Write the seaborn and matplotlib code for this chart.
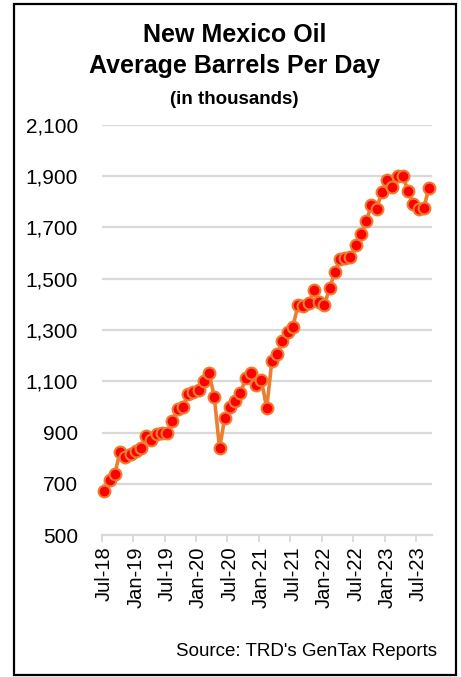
import numpy as np
import pandas as pd
import seaborn as sns
import matplotlib.pyplot as plt
from matplotlib.patches import Rectangle

# Monthly average barrels per day (thousands), Jul-2018 .. Sep-2023
months = pd.date_range('2018-07-01', periods=63, freq='MS')
barrels = [671, 715, 738, 825, 806, 818, 828, 838, 885, 872,
           894, 900, 897, 946, 993, 1000, 1051, 1057, 1067, 1102,
           1132, 1039, 838, 958, 1000, 1024, 1054, 1112, 1131, 1086,
           1104, 995, 1181, 1205, 1256, 1292, 1313, 1398, 1392, 1404,
           1455, 1410, 1397, 1462, 1526, 1578, 1582, 1585, 1630, 1673,
           1725, 1786, 1774, 1839, 1884, 1858, 1900, 1902, 1842, 1793,
           1771, 1777, 1855]
tick_labels = ['Jul-18', 'Jan-19', 'Jul-19', 'Jan-20', 'Jul-20', 'Jan-21',
               'Jul-21', 'Jan-22', 'Jul-22', 'Jan-23', 'Jul-23']
y_ticks = [500, 700, 900, 1100, 1300, 1500, 1700, 1900, 2100]

df = pd.DataFrame({'month': months, 'barrels': barrels})
df['pos'] = np.arange(len(df))

sns.set_style('white')
plt.rcParams['font.family'] = ['Liberation Sans', 'DejaVu Sans']
plt.rcParams['text.color'] = 'black'
plt.rcParams['xtick.color'] = 'black'
plt.rcParams['ytick.color'] = 'black'

fig = plt.figure(figsize=(4.61, 6.77), dpi=100)
ax = fig.add_axes([0.2206, 0.2097, 0.7158, 0.6057])

sns.lineplot(data=df, x='pos', y='barrels', ax=ax, color='#ED7D31', linewidth=2.6,
             marker='o', markersize=8.5, markerfacecolor='#FF0000',
             markeredgecolor='#ED7D31', markeredgewidth=1.5, zorder=3, clip_on=False)

# y axis
ax.set_ylim(500, 2100)
ax.set_yticks(y_ticks)
ax.set_yticklabels([f'{v:,}' for v in y_ticks], fontsize=15)
ax.yaxis.grid(True, color='#d9d9d9', linewidth=1.6)
ax.tick_params(axis='y', length=0, pad=17)

# x axis: labels centred on categories, tick marks between categories
ax.set_xlim(-0.5, len(df) - 0.5)
ax.set_xticks(np.arange(0, len(df), 6))
ax.set_xticklabels(tick_labels, rotation=90, fontsize=14.5)
ax.set_xticks(np.arange(-0.5, len(df), 6), minor=True)
ax.tick_params(axis='x', which='major', length=0, pad=8)
ax.tick_params(axis='x', which='minor', length=5, width=1.3, color='#d9d9d9',
               direction='out', bottom=True)
ax.set_xlabel('')
ax.set_ylabel('')

for side in ['left', 'right', 'top']:
    ax.spines[side].set_visible(False)
ax.spines['bottom'].set_color('#d9d9d9')
ax.spines['bottom'].set_linewidth(1.6)

# titles
fig.text(0.508, 0.948, 'New Mexico Oil', ha='center', va='center',
         fontsize=18, fontweight='bold')
fig.text(0.508, 0.902, 'Average Barrels Per Day', ha='center', va='center',
         fontsize=18, fontweight='bold')
fig.text(0.508, 0.853, '(in thousands)', ha='center', va='center',
         fontsize=13.5, fontweight='bold')

fig.text(0.948, 0.038, "Source: TRD's GenTax Reports", ha='right', va='center',
         fontsize=13.5)

# outer frame
fig.patches.append(Rectangle((0.0293, 0.0025), 0.9599, 0.9916, transform=fig.transFigure,
                             fill=False, edgecolor='black', linewidth=1.6))

fig.savefig('out.png', dpi=100)
